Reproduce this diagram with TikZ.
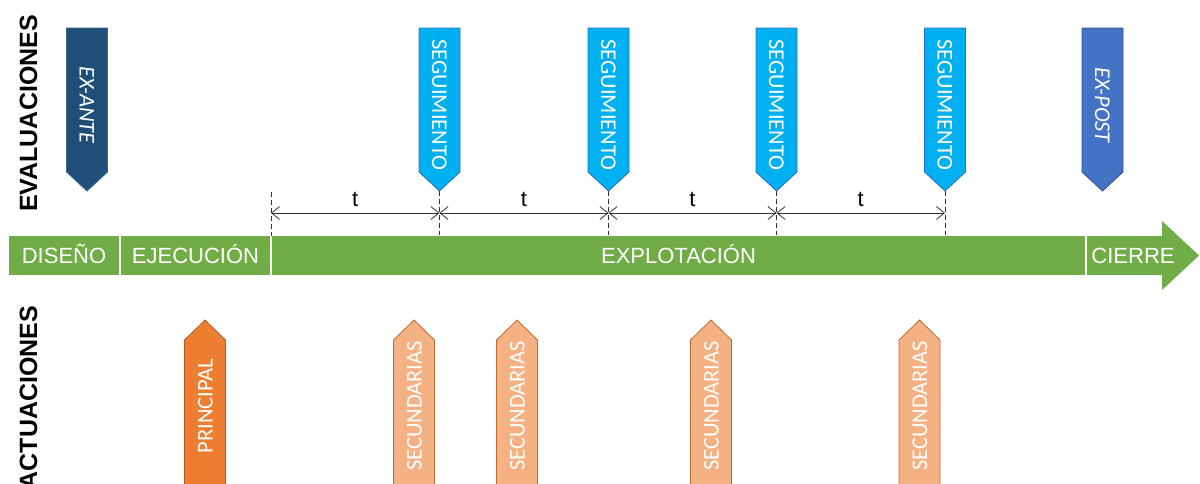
\documentclass[tikz,border=0pt]{standalone}
\usepackage{fontspec}
\setmainfont{Liberation Sans}
\newfontfamily\calfont{Carlito}
\usetikzlibrary{arrows.meta}
\definecolor{bargreen}{HTML}{70AD47}
\definecolor{antefill}{HTML}{1F4E79}
\definecolor{antedraw}{HTML}{3A6A99}
\definecolor{segfill}{HTML}{00B0F0}
\definecolor{segdraw}{HTML}{2F6EBA}
\definecolor{postfill}{HTML}{4472C4}
\definecolor{postdraw}{HTML}{2F528F}
\definecolor{prinfill}{HTML}{ED7D31}
\definecolor{prindraw}{HTML}{AE5A21}
\definecolor{secfill}{HTML}{F4B183}
\definecolor{secdraw}{HTML}{C0692A}
\newcommand\evaltag[5]{%
  \filldraw[fill=#2, draw=#3, line width=0.8pt] ({#1-20.5},28) -- ({#1+20.5},28) -- ({#1+20.5},172) -- (#1,191) -- ({#1-20.5},172) -- cycle;
  \coordinate (#4tip) at (#1,191);
  \node[tagtext, rotate=-90] (#4) at ({#1-7.5},105) {#5};
}
\newcommand\acttag[5]{%
  \filldraw[fill=#2, draw=#3, line width=0.8pt] ({#1-20.5},490) -- ({#1-20.5},340) -- (#1,320) -- ({#1+20.5},340) -- ({#1+20.5},490) -- cycle;
  \node[tagtext, rotate=90] (#4) at ({#1+7.5},406) {#5};
}
\begin{document}
\begin{tikzpicture}[x=1pt,y=-1pt,
  barseg/.style={fill=bargreen, draw=none, inner sep=0, minimum height=39pt},
  bartext/.style={text=white, font=\fontsize{22}{22}\selectfont, anchor=base, inner sep=0},
  tagtext/.style={text=white, font=\calfont\fontsize{22.5}{22.5}\selectfont, anchor=base, inner sep=0},
  sidelabel/.style={font=\bfseries\fontsize{25}{25}\selectfont, rotate=90, anchor=base, inner sep=0},
  dimline/.style={draw=black!80, line width=0.8pt, {Straight Barb[length=8pt,width=13pt]}-{Straight Barb[length=8pt,width=13pt]}},
  guide/.style={draw=black!80, line width=0.8pt, dash pattern=on 5pt off 3pt},
  tlabel/.style={font=\fontsize{22}{22}\selectfont, anchor=base, inner sep=0, yshift=7pt}]
\useasboundingbox (0,0) rectangle (1200,483);
\clip (0,0) rectangle (1200,483);

% side labels
\node[sidelabel] (eval) at (37,113.5) {EVALUACIONES};
\node[sidelabel] (actu) at (37,397.5) {ACTUACIONES};

% green bar
\node[barseg, minimum width=110pt] (dis) at (64,255.5) {};
\node[barseg, minimum width=149pt] (eje) at (195.5,255.5) {};
\node[barseg, minimum width=813pt] (exp) at (678.5,255.5) {};
\fill[bargreen] (1087,236) -- (1162,236) -- (1162,221) -- (1199,255.5) -- (1162,290) -- (1162,275) -- (1087,275) -- cycle;
\coordinate (cie) at (1133,255.5);
\node[bartext] (tdis) at (64,263) {DISEÑO};
\node[bartext] (teje) at (195.5,263) {EJECUCIÓN};
\node[bartext] (texp) at (678.5,263) {EXPLOTACIÓN};
\node[bartext] (tcie) at (1133,263) {CIERRE};

% evaluation tags
\evaltag{87}{antefill}{antedraw}{ante}{\itshape EX-ANTE}
\evaltag{439.5}{segfill}{segdraw}{s1}{SEGUIMIENTO}
\evaltag{608.5}{segfill}{segdraw}{s2}{SEGUIMIENTO}
\evaltag{776.5}{segfill}{segdraw}{s3}{SEGUIMIENTO}
\evaltag{945}{segfill}{segdraw}{s4}{SEGUIMIENTO}
\evaltag{1102.5}{postfill}{postdraw}{post}{\itshape EX-POST}

% guides
\coordinate (g0) at (271,192);
\draw[guide] (g0) -- ++(0,44);
\draw[guide] (s1tip) -- ++(0,44);
\draw[guide] (s2tip) -- ++(0,44);
\draw[guide] (s3tip) -- ++(0,44);
\draw[guide] (s4tip) -- ++(0,44);

% dimension lines
\coordinate (m0) at (271,213);
\coordinate (m1) at (439.5,213);
\coordinate (m2) at (608.5,213);
\coordinate (m3) at (776.5,213);
\coordinate (m4) at (945,213);
\draw[dimline] (m0) -- node[tlabel] (t1) {t} (m1);
\draw[dimline] (m1) -- node[tlabel] (t2) {t} (m2);
\draw[dimline] (m2) -- node[tlabel] (t3) {t} (m3);
\draw[dimline] (m3) -- node[tlabel] (t4) {t} (m4);

% action tags
\acttag{205}{prinfill}{prindraw}{prin}{PRINCIPAL}
\acttag{414}{secfill}{secdraw}{sec1}{SECUNDARIAS}
\acttag{517}{secfill}{secdraw}{sec2}{SECUNDARIAS}
\acttag{711}{secfill}{secdraw}{sec3}{SECUNDARIAS}
\acttag{919.5}{secfill}{secdraw}{sec4}{SECUNDARIAS}
\end{tikzpicture}
\end{document}
